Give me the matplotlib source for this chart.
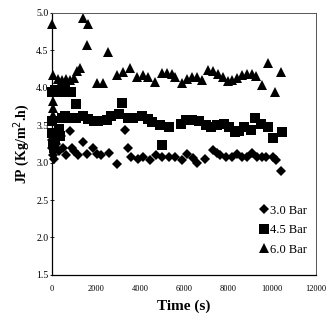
import matplotlib
matplotlib.use("Agg")
import matplotlib.pyplot as plt

# 3.0 Bar (diamonds)
t_30 = [0, 0, 50, 100, 200, 300, 400, 500, 650, 820, 900, 1000, 1200, 1400, 1600,
        1850, 2050, 2250, 2600, 2950, 3300, 3450, 3600, 3900, 4150, 4450, 4750,
        5000, 5300, 5600, 5900, 6150, 6400, 6600, 6950, 7300, 7500, 7650, 7900,
        8180, 8400, 8650, 8850, 9100, 9300, 9550, 9750, 10050, 10200, 10400]
jp_30 = [3.30, 3.20, 3.10, 3.05, 3.25, 3.15, 3.35, 3.20, 3.10, 3.42, 3.20, 3.15,
         3.10, 3.27, 3.12, 3.20, 3.12, 3.10, 3.13, 2.98, 3.44, 3.20, 3.08, 3.05,
         3.08, 3.03, 3.10, 3.08, 3.07, 3.08, 3.04, 3.11, 3.06, 3.00, 3.05, 3.17,
         3.13, 3.10, 3.08, 3.07, 3.11, 3.08, 3.08, 3.13, 3.08, 3.08, 3.07, 3.07,
         3.04, 2.89]

# 4.5 Bar (squares)
t_45 = [0, 150, 400, 600, 850, 0, 0, 50, 100, 150, 300, 350, 450, 600, 700,
        1100, 1100, 1400, 1650, 1900, 2100, 2500, 2700, 3050, 3200, 3450, 3700,
        4100, 4350, 4550, 4900, 5000, 5300, 5850, 6100, 6350, 6700, 7000, 7250,
        7500, 7800, 8050, 8300, 8500, 8750, 9050, 9250, 9500, 9800, 10050, 10450]
jp_45 = [3.95, 3.97, 3.95, 3.97, 3.95, 3.55, 3.40, 3.25, 3.20, 3.30, 3.45, 3.35,
         3.60, 3.62, 3.60, 3.78, 3.60, 3.62, 3.58, 3.55, 3.55, 3.57, 3.62, 3.65,
         3.80, 3.60, 3.60, 3.62, 3.58, 3.54, 3.50, 3.24, 3.48, 3.52, 3.57, 3.57,
         3.55, 3.50, 3.47, 3.50, 3.52, 3.47, 3.41, 3.42, 3.48, 3.44, 3.60, 3.52,
         3.48, 3.33, 3.41]

# 6.0 Bar (triangles)
t_60 = [0, 50, 50, 60, 70, 270, 450, 640, 820, 1000, 1140, 1270, 1410, 1590,
        1640, 2040, 2300, 2550, 2950, 3230, 3550, 3860, 4140, 4360, 4680, 5000,
        5230, 5450, 5590, 5910, 6140, 6360, 6590, 6820, 7090, 7320, 7550, 7770,
        8000, 8200, 8410, 8640, 8860, 9090, 9270, 9550, 9820, 10140, 10400]
jp_60 = [4.85, 4.17, 3.82, 3.73, 3.64, 4.12, 4.10, 4.12, 4.10, 4.13, 4.22, 4.27,
         4.93, 4.57, 4.85, 4.07, 4.07, 4.48, 4.17, 4.21, 4.27, 4.15, 4.17, 4.15,
         4.08, 4.20, 4.20, 4.18, 4.14, 4.07, 4.12, 4.14, 4.14, 4.10, 4.24, 4.23,
         4.19, 4.15, 4.09, 4.11, 4.13, 4.17, 4.19, 4.19, 4.16, 4.04, 4.33, 3.95,
         4.21]

series = [("3.0 Bar", t_30, jp_30, "D", 5.5),
          ("4.5 Bar", t_45, jp_45, "s", 6.5),
          ("6.0 Bar", t_60, jp_60, "^", 7)]

serif = ["Liberation Serif", "DejaVu Serif"]

fig = plt.figure(figsize=(3.35, 3.16), dpi=100, facecolor="white")
ax = fig.add_axes([0.155, 0.13, 0.788, 0.829])

for label, t, jp, mk, ms in series:
    ax.plot(t, jp, linestyle="none", marker=mk, markersize=ms,
            color="black", markeredgewidth=0, label=label, clip_on=False)

ax.set_xlim(0, 12000)
ax.set_ylim(1.5, 5.0)
ax.set_xticks(range(0, 12001, 2000))
ax.set_yticks([1.5, 2.0, 2.5, 3.0, 3.5, 4.0, 4.5, 5.0])
ax.set_yticklabels(["1.5", "2.0", "2.5", "3.0", "3.5", "4.0", "4.5", "5.0"])

ax.tick_params(axis="x", length=0, pad=7, labelsize=6)
ax.tick_params(axis="y", length=3, direction="inout", width=0.6, pad=1, labelsize=7)
for lab in ax.get_xticklabels() + ax.get_yticklabels():
    lab.set_family(serif)

for s in ["left", "bottom"]:
    ax.spines[s].set_linewidth(0.9)
    ax.spines[s].set_color("black")
for s in ["top", "right"]:
    ax.spines[s].set_linewidth(0.7)
    ax.spines[s].set_color("#555555")

ax.set_xlabel("Time (s)", family=serif, fontweight="bold", fontsize=11, labelpad=5)
ax.set_ylabel("JP (Kg/m$^2$.h)", family=serif, fontweight="bold", fontsize=10, labelpad=3)

ax.legend(loc="lower right", bbox_to_anchor=(1.0, 0.04), frameon=False,
          prop={"family": serif, "size": 9}, handletextpad=0.05,
          handlelength=0.9, labelspacing=0.6, borderpad=0.2)

fig.savefig("out.png", dpi=100, facecolor="white")
